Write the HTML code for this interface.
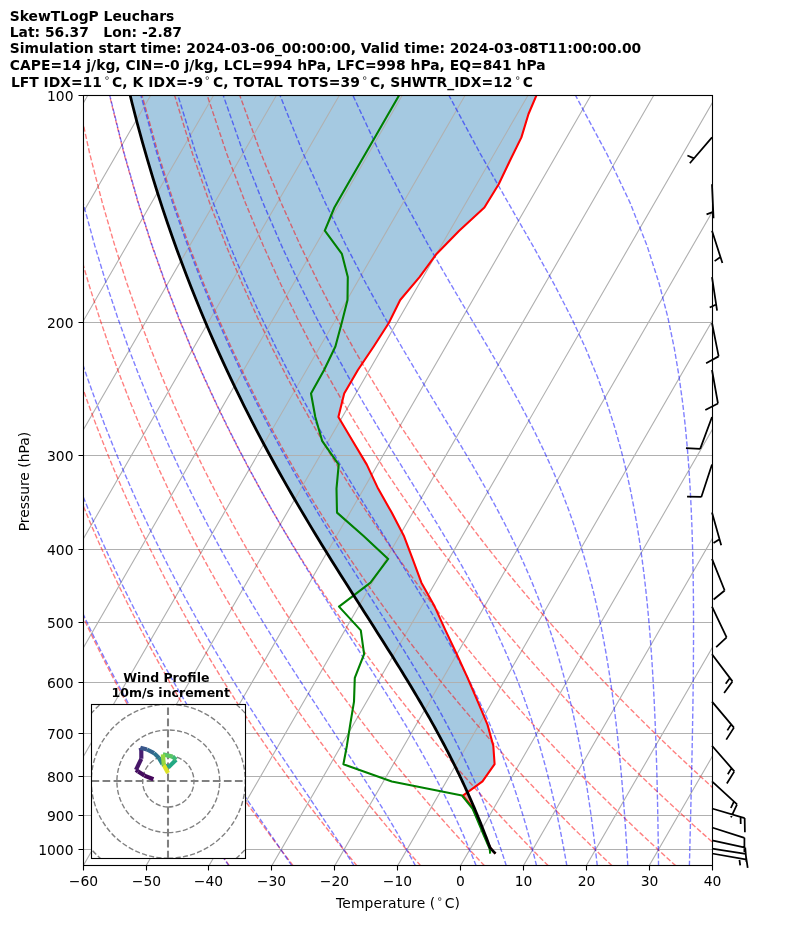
<!DOCTYPE html>
<html lang="en"><head><meta charset="utf-8"><title>SkewTLogP Leuchars</title>
<style>html,body{margin:0;padding:0;background:#fff}svg{display:block}</style></head>
<body>
<svg width="794" height="937" viewBox="0 0 794 937" font-family="'DejaVu Sans','Liberation Sans',sans-serif" font-size="13.89px" fill="#000">
<rect width="794" height="937" fill="#fff"/>
<defs><clipPath id="ax"><rect x="83.5" y="95.5" width="629" height="770"/></clipPath>
<clipPath id="hd"><rect x="91.5" y="704.5" width="154" height="154"/></clipPath></defs>
<g clip-path="url(#ax)">
<polygon points="466.27,793.16 482.5,781.4 494.6,764.2 493.3,745.7 487.5,724.6 477.8,701.6 467.6,677.9 456.8,654.2 445.5,630.4 434.7,606.6 421.4,582.7 412.6,558.9 403.8,535.7 391.7,512.6 378.1,488.6 366.8,464.6 352.5,440.8 338.4,417 344.2,393.5 357.9,370 373.7,346.5 388.8,323 400.2,300 419.5,277.1 436.5,253.9 459.2,230.7 484.4,207.5 498.7,184.3 509.9,160.8 521.4,137.4 528.5,114 538.3,91 127.04,82.41 132.23,103.73 137.4,123.76 142.55,142.63 147.66,160.47 152.72,177.39 157.74,193.48 162.72,208.82 167.65,223.47 172.52,237.49 177.35,250.94 182.13,263.85 186.85,276.28 191.53,288.25 196.15,299.8 200.73,310.95 205.25,321.74 209.73,332.19 214.17,342.31 218.55,352.13 222.89,361.66 227.18,370.92 231.43,379.93 235.64,388.69 239.8,397.23 243.92,405.55 248,413.67 252.04,421.59 256.04,429.32 260,436.87 263.91,444.26 267.79,451.48 271.63,458.54 275.44,465.46 279.2,472.23 282.93,478.86 286.62,485.37 290.27,491.74 293.89,498 297.47,504.14 301.01,510.16 304.52,516.08 307.99,521.89 311.42,527.6 314.82,533.21 318.18,538.73 321.51,544.15 324.8,549.49 328.05,554.74 331.27,559.91 334.45,565 337.59,570.01 340.7,574.95 343.77,579.81 346.8,584.6 349.8,589.32 352.76,593.98 355.69,598.57 358.58,603.09 361.43,607.56 364.24,611.96 367.02,616.31 369.76,620.6 372.46,624.83 375.12,629.01 377.75,633.14 380.34,637.21 382.9,641.24 385.41,645.21 387.89,649.14 390.34,653.02 392.75,656.86 395.12,660.65 397.45,664.4 399.75,668.11 402.02,671.77 404.24,675.4 406.44,678.98 408.59,682.53 410.72,686.04 412.81,689.51 414.86,692.94 416.88,696.34 418.87,699.7 420.83,703.03 422.75,706.33 424.64,709.59 426.5,712.82 428.32,716.02 430.12,719.19 431.89,722.33 433.62,725.44 435.33,728.52 437.01,731.57 438.65,734.59 440.27,737.59 441.87,740.55 443.43,743.49 444.97,746.41 446.48,749.3 447.97,752.16 449.43,755 450.86,757.82 452.27,760.61 453.66,763.37 455.02,766.12 456.36,768.84 457.68,771.54 458.97,774.21 460.25,776.87 461.5,779.5 462.73,782.11 463.94,784.71 465.13,787.28 466.3,789.83 467.45,792.36 467.81,793.16" fill="#1f77b4" fill-opacity="0.4"/>
<polygon points="466.27,793.16 462.9,795.6 473.3,808.5 477.5,818.5 481.3,827.6 484.5,835 487,840.8 489,845 491,848.5 490.13,847.9 489.35,845.76 488.55,843.62 487.74,841.45 486.92,839.27 486.08,837.08 485.24,834.87 484.37,832.65 483.5,830.41 482.61,828.16 481.71,825.89 480.8,823.61 479.87,821.31 478.92,818.99 477.96,816.66 476.98,814.31 475.99,811.94 474.98,809.56 473.96,807.15 472.92,804.73 471.86,802.3 470.78,799.84 469.69,797.37 468.58,794.87" fill="#d62728" fill-opacity="0.4"/>
<path d="M-419.93 865.85L24.67 95.77M-357.04 865.85L87.56 95.77M-294.16 865.85L150.44 95.77M-231.28 865.85L213.33 95.77M-168.39 865.85L276.21 95.77M-105.5 865.85L339.1 95.77M-42.62 865.85L401.98 95.77M20.27 865.85L464.87 95.77M83.15 865.85L527.75 95.77M146.03 865.85L590.64 95.77M208.92 865.85L653.52 95.77M271.81 865.85L716.41 95.77M334.69 865.85L779.29 95.77M397.58 865.85L842.18 95.77M460.46 865.85L905.06 95.77M523.35 865.85L967.95 95.77M586.23 865.85L1030.83 95.77M649.12 865.85L1093.72 95.77M712 865.85L1156.6 95.77M83.5 95.5H712.5M83.5 322.5H712.5M83.5 455.5H712.5M83.5 549.5H712.5M83.5 622.5H712.5M83.5 682.5H712.5M83.5 733.5H712.5M83.5 776.5H712.5M83.5 815.5H712.5M83.5 849.5H712.5" stroke="#b0b0b0" stroke-width="1.11" fill="none"/>
<path d="M229.5,865.85L225.13,859.75L220.72,853.53L216.27,847.19L211.77,840.72L207.23,834.13L202.65,827.4L198.03,820.52L193.35,813.5L188.64,806.33L183.87,799L179.05,791.49L174.18,783.82L169.26,775.96L164.28,767.9L159.25,759.64L154.16,751.17L149.02,742.47L143.81,733.54L138.54,724.35L133.21,714.9L127.81,705.17L122.34,695.14L116.8,684.8L111.2,674.11L105.51,663.07L99.75,651.64L93.91,639.8L87.99,627.51L81.99,614.75L75.9,601.46L69.72,587.62L63.45,573.16L57.08,558.04L50.62,542.18L44.06,525.52L37.41,507.96L30.65,489.41L23.79,469.74L16.84,448.82L9.79,426.47L2.65,402.48L-4.56,376.59L-11.84,348.48L-19.14,317.73L-26.44,283.79L-33.65,245.92L-40.67,203.09L-47.31,153.81L-53.24,95.77M293.27,865.85L288.56,859.75L283.8,853.53L279,847.19L274.16,840.72L269.26,834.13L264.32,827.4L259.32,820.52L254.28,813.5L249.18,806.33L244.02,799L238.81,791.49L233.54,783.82L228.22,775.96L222.83,767.9L217.38,759.64L211.86,751.17L206.28,742.47L200.63,733.54L194.9,724.35L189.11,714.9L183.24,705.17L177.29,695.14L171.26,684.8L165.14,674.11L158.94,663.07L152.65,651.64L146.27,639.8L139.79,627.51L133.21,614.75L126.53,601.46L119.74,587.62L112.84,573.16L105.83,558.04L98.7,542.18L91.45,525.52L84.07,507.96L76.57,489.41L68.93,469.74L61.16,448.82L53.25,426.47L45.22,402.48L37.05,376.59L28.77,348.48L20.39,317.73L11.94,283.79L3.48,245.92L-4.9,203.09L-13.05,153.81L-20.67,95.77M357.04,865.85L351.99,859.75L346.89,853.53L341.74,847.19L336.54,840.72L331.29,834.13L325.98,827.4L320.62,820.52L315.2,813.5L309.72,806.33L304.18,799L298.57,791.49L292.91,783.82L287.17,775.96L281.37,767.9L275.5,759.64L269.56,751.17L263.54,742.47L257.44,733.54L251.27,724.35L245.01,714.9L238.66,705.17L232.23,695.14L225.71,684.8L219.09,674.11L212.37,663.07L205.55,651.64L198.62,639.8L191.58,627.51L184.43,614.75L177.16,601.46L169.77,587.62L162.24,573.16L154.58,558.04L146.78,542.18L138.84,525.52L130.74,507.96L122.48,489.41L114.07,469.74L105.48,448.82L96.72,426.47L87.78,402.48L78.66,376.59L69.37,348.48L59.92,317.73L50.32,283.79L40.61,245.92L30.87,203.09L21.21,153.81L11.9,95.77M420.8,865.85L415.42,859.75L409.98,853.53L404.48,847.19L398.93,840.72L393.32,834.13L387.64,827.4L381.91,820.52L376.12,813.5L370.26,806.33L364.33,799L358.34,791.49L352.27,783.82L346.13,775.96L339.92,767.9L333.63,759.64L327.25,751.17L320.8,742.47L314.26,733.54L307.63,724.35L300.91,714.9L294.09,705.17L287.17,695.14L280.16,684.8L273.03,674.11L265.8,663.07L258.45,651.64L250.98,639.8L243.38,627.51L235.66,614.75L227.79,601.46L219.79,587.62L211.64,573.16L203.33,558.04L194.86,542.18L186.22,525.52L177.41,507.96L168.4,489.41L159.2,469.74L149.8,448.82L140.18,426.47L130.34,402.48L120.28,376.59L109.98,348.48L99.45,317.73L88.69,283.79L77.74,245.92L66.63,203.09L55.48,153.81L44.47,95.77M484.57,865.85L478.85,859.75L473.06,853.53L467.22,847.19L461.31,840.72L455.34,834.13L449.31,827.4L443.21,820.52L437.04,813.5L430.8,806.33L424.49,799L418.1,791.49L411.64,783.82L405.09,775.96L398.46,767.9L391.75,759.64L384.95,751.17L378.06,742.47L371.07,733.54L363.99,724.35L356.81,714.9L349.52,705.17L342.12,695.14L334.61,684.8L326.98,674.11L319.22,663.07L311.34,651.64L303.33,639.8L295.18,627.51L286.88,614.75L278.43,601.46L269.82,587.62L261.04,573.16L252.08,558.04L242.94,542.18L233.61,525.52L224.07,507.96L214.32,489.41L204.34,469.74L194.12,448.82L183.64,426.47L172.91,402.48L161.89,376.59L150.58,348.48L138.98,317.73L127.07,283.79L114.87,245.92L102.4,203.09L89.74,153.81L77.04,95.77M548.34,865.85L542.28,859.75L536.15,853.53L529.96,847.19L523.7,840.72L517.37,834.13L510.97,827.4L504.5,820.52L497.96,813.5L491.34,806.33L484.64,799L477.86,791.49L471,783.82L464.05,775.96L457.01,767.9L449.88,759.64L442.65,751.17L435.32,742.47L427.89,733.54L420.35,724.35L412.71,714.9L404.94,705.17L397.06,695.14L389.06,684.8L380.92,674.11L372.65,663.07L364.24,651.64L355.68,639.8L346.97,627.51L338.1,614.75L329.06,601.46L319.84,587.62L310.43,573.16L300.83,558.04L291.02,542.18L281,525.52L270.74,507.96L260.24,489.41L249.47,469.74L238.44,448.82L227.11,426.47L215.47,402.48L203.5,376.59L191.19,348.48L178.51,317.73L165.45,283.79L152,245.92L138.17,203.09L124,153.81L109.61,95.77M612.11,865.85L605.7,859.75L599.23,853.53L592.69,847.19L586.08,840.72L579.4,834.13L572.64,827.4L565.8,820.52L558.88,813.5L551.88,806.33L544.8,799L537.63,791.49L530.36,783.82L523.01,775.96L515.55,767.9L508,759.64L500.34,751.17L492.58,742.47L484.71,733.54L476.72,724.35L468.61,714.9L460.37,705.17L452.01,695.14L443.51,684.8L434.87,674.11L426.08,663.07L417.14,651.64L408.04,639.8L398.77,627.51L389.32,614.75L379.69,601.46L369.86,587.62L359.83,573.16L349.58,558.04L339.1,542.18L328.38,525.52L317.4,507.96L306.15,489.41L294.61,469.74L282.76,448.82L270.57,426.47L258.03,402.48L245.12,376.59L231.79,348.48L218.04,317.73L203.82,283.79L189.13,245.92L173.94,203.09L158.26,153.81L142.18,95.77M675.88,865.85L669.13,859.75L662.32,853.53L655.43,847.19L648.47,840.72L641.42,834.13L634.3,827.4L627.09,820.52L619.8,813.5L612.42,806.33L604.95,799L597.39,791.49L589.73,783.82L581.96,775.96L574.1,767.9L566.13,759.64L558.04,751.17L549.84,742.47L541.52,733.54L533.08,724.35L524.51,714.9L515.8,705.17L506.95,695.14L497.96,684.8L488.81,674.11L479.51,663.07L470.04,651.64L460.39,639.8L450.57,627.51L440.55,614.75L430.32,601.46L419.89,587.62L409.23,573.16L398.33,558.04L387.18,542.18L375.77,525.52L364.07,507.96L352.07,489.41L339.75,469.74L327.08,448.82L314.04,426.47L300.6,402.48L286.73,376.59L272.4,348.48L257.57,317.73L242.2,283.79L226.26,245.92L209.7,203.09L192.53,153.81L174.75,95.77M739.64,865.85L732.56,859.75L725.41,853.53L718.17,847.19L710.85,840.72L703.45,834.13L695.96,827.4L688.39,820.52L680.72,813.5L672.96,806.33L665.11,799L657.15,791.49L649.09,783.82L640.92,775.96L632.64,767.9L624.25,759.64L615.74,751.17L607.1,742.47L598.34,733.54L589.44,724.35L580.41,714.9L571.23,705.17L561.9,695.14L552.41,684.8L542.76,674.11L532.94,663.07L522.94,651.64L512.75,639.8L502.36,627.51L491.77,614.75L480.96,601.46L469.91,587.62L458.63,573.16L447.08,558.04L435.27,542.18L423.16,525.52L410.74,507.96L397.99,489.41L384.88,469.74L371.4,448.82L357.5,426.47L343.16,402.48L328.34,376.59L313,348.48L297.1,317.73L280.58,283.79L263.39,245.92L245.47,203.09L226.79,153.81L207.33,95.77M803.41,865.85L795.99,859.75L788.49,853.53L780.91,847.19L773.24,840.72L765.48,834.13L757.63,827.4L749.69,820.52L741.65,813.5L733.51,806.33L725.26,799L716.91,791.49L708.45,783.82L699.88,775.96L691.19,767.9L682.37,759.64L673.43,751.17L664.36,742.47L655.15,733.54L645.8,724.35L636.31,714.9L626.65,705.17L616.84,695.14L606.86,684.8L596.7,674.11L586.37,663.07L575.84,651.64L565.1,639.8L554.16,627.51L542.99,614.75L531.59,601.46L519.94,587.62L508.03,573.16L495.83,558.04L483.35,542.18L470.54,525.52L457.4,507.96L443.9,489.41L430.02,469.74L415.71,448.82L400.96,426.47L385.72,402.48L369.95,376.59L353.61,348.48L336.63,317.73L318.95,283.79L300.52,245.92L281.24,203.09L261.05,153.81L239.9,95.77" stroke="#f00" stroke-opacity="0.5" stroke-width="1.39" stroke-dasharray="5.14 2.22" fill="none"/>
<path d="M228.94,865.85L224.8,859.75L220.6,853.53L216.35,847.19L212.03,840.72L207.66,834.13L203.23,827.4L198.74,820.52L194.18,813.5L189.57,806.33L184.9,799L180.17,791.49L175.37,783.82L170.51,775.96L165.59,767.9L160.61,759.64L155.56,751.17L150.45,742.47L145.26,733.54L140.01,724.35L134.7,714.9L129.31,705.17L123.85,695.14L118.31,684.8L112.7,674.11L107.01,663.07L101.25,651.64L95.4,639.8L89.47,627.51L83.45,614.75L77.35,601.46L71.15,587.62L64.87,573.16L58.48,558.04L52.01,542.18L45.43,525.52L38.75,507.96L31.97,489.41L25.09,469.74L18.12,448.82L11.04,426.47L3.88,402.48L-3.36,376.59L-10.67,348.48L-18,317.73L-25.33,283.79L-32.58,245.92L-39.64,203.09L-46.32,153.81L-52.31,95.77M291.9,865.85L287.75,859.75L283.52,853.53L279.2,847.19L274.81,840.72L270.33,834.13L265.76,827.4L261.12,820.52L256.39,813.5L251.58,806.33L246.68,799L241.71,791.49L236.64,783.82L231.5,775.96L226.27,767.9L220.96,759.64L215.56,751.17L210.07,742.47L204.5,733.54L198.85,724.35L193.1,714.9L187.27,705.17L181.35,695.14L175.33,684.8L169.22,674.11L163.02,663.07L156.72,651.64L150.32,639.8L143.82,627.51L137.21,614.75L130.49,601.46L123.67,587.62L116.73,573.16L109.67,558.04L102.49,542.18L95.19,525.52L87.76,507.96L80.19,489.41L72.49,469.74L64.66,448.82L56.69,426.47L48.58,402.48L40.34,376.59L31.97,348.48L23.51,317.73L14.97,283.79L6.41,245.92L-2.08,203.09L-10.34,153.81L-18.1,95.77M354.15,865.85L350.27,859.75L346.28,853.53L342.18,847.19L337.96,840.72L333.64,834.13L329.2,827.4L324.65,820.52L319.99,813.5L315.2,806.33L310.3,799L305.28,791.49L300.14,783.82L294.88,775.96L289.51,767.9L284.01,759.64L278.4,751.17L272.66,742.47L266.81,733.54L260.84,724.35L254.74,714.9L248.53,705.17L242.2,695.14L235.74,684.8L229.17,674.11L222.47,663.07L215.64,651.64L208.69,639.8L201.61,627.51L194.4,614.75L187.06,601.46L179.58,587.62L171.96,573.16L164.19,558.04L156.27,542.18L148.2,525.52L139.97,507.96L131.57,489.41L123,469.74L114.25,448.82L105.32,426.47L96.21,402.48L86.91,376.59L77.42,348.48L67.75,317.73L57.92,283.79L47.96,245.92L37.95,203.09L28,153.81L18.35,95.77M415.51,865.85L412.23,859.75L408.83,853.53L405.3,847.19L401.65,840.72L397.86,834.13L393.94,827.4L389.87,820.52L385.66,813.5L381.3,806.33L376.78,799L372.1,791.49L367.27,783.82L362.26,775.96L357.09,767.9L351.75,759.64L346.24,751.17L340.56,742.47L334.7,733.54L328.66,724.35L322.45,714.9L316.06,705.17L309.5,695.14L302.75,684.8L295.84,674.11L288.74,663.07L281.48,651.64L274.03,639.8L266.41,627.51L258.61,614.75L250.63,601.46L242.48,587.62L234.13,573.16L225.61,558.04L216.89,542.18L207.97,525.52L198.86,507.96L189.53,489.41L179.98,469.74L170.21,448.82L160.21,426.47L149.96,402.48L139.46,376.59L128.7,348.48L117.67,317.73L106.39,283.79L94.86,245.92L83.12,203.09L71.27,153.81L59.49,95.77M476.15,865.85L473.73,859.75L471.2,853.53L468.56,847.19L465.81,840.72L462.93,834.13L459.93,827.4L456.78,820.52L453.49,813.5L450.05,806.33L446.44,799L442.67,791.49L438.71,783.82L434.57,775.96L430.22,767.9L425.67,759.64L420.9,751.17L415.91,742.47L410.67,733.54L405.2,724.35L399.47,714.9L393.49,705.17L387.24,695.14L380.72,684.8L373.93,674.11L366.86,663.07L359.52,651.64L351.89,639.8L343.99,627.51L335.8,614.75L327.34,601.46L318.61,587.62L309.6,573.16L300.31,558.04L290.75,542.18L280.92,525.52L270.8,507.96L260.4,489.41L249.71,469.74L238.73,448.82L227.43,426.47L215.8,402.48L203.84,376.59L191.53,348.48L178.84,317.73L165.77,283.79L152.31,245.92L138.47,203.09L124.29,153.81L109.89,95.77M506.35,865.85L504.39,859.75L502.35,853.53L500.22,847.19L497.98,840.72L495.64,834.13L493.19,827.4L490.62,820.52L487.92,813.5L485.08,806.33L482.1,799L478.96,791.49L475.65,783.82L472.17,775.96L468.49,767.9L464.62,759.64L460.52,751.17L456.2,742.47L451.64,733.54L446.82,724.35L441.73,714.9L436.35,705.17L430.67,695.14L424.68,684.8L418.37,674.11L411.71,663.07L404.72,651.64L397.37,639.8L389.65,627.51L381.58,614.75L373.14,601.46L364.33,587.62L355.16,573.16L345.62,558.04L335.73,542.18L325.48,525.52L314.87,507.96L303.91,489.41L292.58,469.74L280.89,448.82L268.83,426.47L256.39,402.48L243.55,376.59L230.28,348.48L216.58,317.73L202.41,283.79L187.76,245.92L172.62,203.09L157.01,153.81L140.99,95.77M536.57,865.85L535.07,859.75L533.51,853.53L531.87,847.19L530.16,840.72L528.36,834.13L526.47,827.4L524.49,820.52L522.4,813.5L520.21,806.33L517.89,799L515.44,791.49L512.86,783.82L510.13,775.96L507.23,767.9L504.16,759.64L500.9,751.17L497.43,742.47L493.74,733.54L489.82,724.35L485.63,714.9L481.17,705.17L476.41,695.14L471.32,684.8L465.89,674.11L460.09,663.07L453.89,651.64L447.29,639.8L440.24,627.51L432.75,614.75L424.78,601.46L416.32,587.62L407.38,573.16L397.93,558.04L387.99,542.18L377.54,525.52L366.61,507.96L355.18,489.41L343.27,469.74L330.88,448.82L318.01,426.47L304.65,402.48L290.8,376.59L276.44,348.48L261.54,317.73L246.07,283.79L230.01,245.92L213.33,203.09L196,153.81L178.05,95.77M566.86,865.85L565.8,859.75L564.68,853.53L563.51,847.19L562.29,840.72L561.01,834.13L559.66,827.4L558.24,820.52L556.75,813.5L555.17,806.33L553.51,799L551.75,791.49L549.89,783.82L547.91,775.96L545.81,767.9L543.58,759.64L541.2,751.17L538.66,742.47L535.95,733.54L533.04,724.35L529.92,714.9L526.57,705.17L522.97,695.14L519.08,684.8L514.89,674.11L510.36,663.07L505.45,651.64L500.13,639.8L494.37,627.51L488.11,614.75L481.33,601.46L473.98,587.62L466.01,573.16L457.4,558.04L448.12,542.18L438.13,525.52L427.43,507.96L416.01,489.41L403.87,469.74L391.02,448.82L377.47,426.47L363.23,402.48L348.32,376.59L332.72,348.48L316.42,317.73L299.41,283.79L281.65,245.92L263.08,203.09L243.66,153.81L223.36,95.77M597.28,865.85L596.6,859.75L595.88,853.53L595.14,847.19L594.35,840.72L593.53,834.13L592.67,827.4L591.76,820.52L590.8,813.5L589.78,806.33L588.71,799L587.58,791.49L586.38,783.82L585.1,775.96L583.74,767.9L582.29,759.64L580.74,751.17L579.08,742.47L577.3,733.54L575.39,724.35L573.33,714.9L571.11,705.17L568.71,695.14L566.11,684.8L563.27,674.11L560.18,663.07L556.81,651.64L553.11,639.8L549.05,627.51L544.58,614.75L539.64,601.46L534.18,587.62L528.13,573.16L521.41,558.04L513.95,542.18L505.67,525.52L496.48,507.96L486.31,489.41L475.1,469.74L462.8,448.82L449.39,426.47L434.87,402.48L419.25,376.59L402.56,348.48L384.83,317.73L366.07,283.79L346.27,245.92L325.4,203.09L303.38,153.81L280.15,95.77M627.83,865.85L627.48,859.75L627.12,853.53L626.73,847.19L626.33,840.72L625.9,834.13L625.45,827.4L624.98,820.52L624.48,813.5L623.94,806.33L623.38,799L622.78,791.49L622.14,783.82L621.46,775.96L620.73,767.9L619.95,759.64L619.11,751.17L618.21,742.47L617.24,733.54L616.19,724.35L615.06,714.9L613.83,705.17L612.49,695.14L611.03,684.8L609.43,674.11L607.67,663.07L605.74,651.64L603.61,639.8L601.24,627.51L598.61,614.75L595.67,601.46L592.37,587.62L588.65,573.16L584.45,558.04L579.67,542.18L574.22,525.52L567.97,507.96L560.8,489.41L552.53,469.74L542.98,448.82L531.99,426.47L519.36,402.48L504.96,376.59L488.69,348.48L470.54,317.73L450.53,283.79L428.75,245.92L405.25,203.09L380.06,153.81L353.11,95.77M658.54,865.85L658.47,859.75L658.39,853.53L658.3,847.19L658.21,840.72L658.11,834.13L658.01,827.4L657.89,820.52L657.76,813.5L657.63,806.33L657.47,799L657.31,791.49L657.13,783.82L656.93,775.96L656.71,767.9L656.47,759.64L656.2,751.17L655.91,742.47L655.59,733.54L655.23,724.35L654.83,714.9L654.39,705.17L653.9,695.14L653.35,684.8L652.73,674.11L652.05,663.07L651.27,651.64L650.4,639.8L649.41,627.51L648.29,614.75L647.01,601.46L645.55,587.62L643.88,573.16L641.94,558.04L639.69,542.18L637.06,525.52L633.98,507.96L630.33,489.41L625.99,469.74L620.77,448.82L614.46,426.47L606.76,402.48L597.32,376.59L585.69,348.48L571.39,317.73L553.93,283.79L532.96,245.92L508.39,203.09L480.36,153.81L449.11,95.77M689.38,865.85L689.54,859.75L689.69,853.53L689.85,847.19L690.01,840.72L690.17,834.13L690.34,827.4L690.51,820.52L690.68,813.5L690.85,806.33L691.03,799L691.2,791.49L691.38,783.82L691.56,775.96L691.73,767.9L691.91,759.64L692.08,751.17L692.26,742.47L692.43,733.54L692.59,724.35L692.75,714.9L692.91,705.17L693.05,695.14L693.18,684.8L693.3,674.11L693.4,663.07L693.47,651.64L693.53,639.8L693.54,627.51L693.52,614.75L693.45,601.46L693.32,587.62L693.12,573.16L692.82,558.04L692.42,542.18L691.87,525.52L691.15,507.96L690.21,489.41L688.98,469.74L687.39,448.82L685.33,426.47L682.62,402.48L679.06,376.59L674.33,348.48L667.94,317.73L659.21,283.79L647.11,245.92L630.21,203.09L606.83,153.81L575.68,95.77M720.36,865.85L720.69,859.75L721.03,853.53L721.37,847.19L721.73,840.72L722.1,834.13L722.48,827.4L722.86,820.52L723.26,813.5L723.67,806.33L724.1,799L724.53,791.49L724.98,783.82L725.44,775.96L725.92,767.9L726.41,759.64L726.91,751.17L727.43,742.47L727.97,733.54L728.52,724.35L729.08,714.9L729.67,705.17L730.27,695.14L730.89,684.8L731.53,674.11L732.19,663.07L732.87,651.64L733.56,639.8L734.28,627.51L735.01,614.75L735.76,601.46L736.54,587.62L737.32,573.16L738.12,558.04L738.92,542.18L739.73,525.52L740.54,507.96L741.33,489.41L742.09,469.74L742.8,448.82L743.43,426.47L743.92,402.48L744.23,376.59L744.23,348.48L743.78,317.73L742.61,283.79L740.29,245.92L736.05,203.09L728.45,153.81L714.72,95.77M751.45,865.85L751.91,859.75L752.39,853.53L752.88,847.19L753.38,840.72L753.9,834.13L754.44,827.4L754.99,820.52L755.56,813.5L756.15,806.33L756.76,799L757.39,791.49L758.04,783.82L758.71,775.96L759.4,767.9L760.12,759.64L760.86,751.17L761.63,742.47L762.43,733.54L763.25,724.35L764.11,714.9L765,705.17L765.93,695.14L766.89,684.8L767.89,674.11L768.94,663.07L770.03,651.64L771.17,639.8L772.35,627.51L773.6,614.75L774.9,601.46L776.26,587.62L777.69,573.16L779.19,558.04L780.77,542.18L782.44,525.52L784.19,507.96L786.05,489.41L788.01,469.74L790.08,448.82L792.28,426.47L794.6,402.48L797.06,376.59L799.67,348.48L802.4,317.73L805.25,283.79L808.17,245.92L811.02,203.09L813.55,153.81L815.12,95.77M782.63,865.85L783.19,859.75L783.77,853.53L784.36,847.19L784.98,840.72L785.61,834.13L786.26,827.4L786.93,820.52L787.63,813.5L788.34,806.33L789.08,799L789.85,791.49L790.64,783.82L791.46,775.96L792.3,767.9L793.18,759.64L794.09,751.17L795.04,742.47L796.02,733.54L797.04,724.35L798.1,714.9L799.2,705.17L800.35,695.14L801.55,684.8L802.8,674.11L804.1,663.07L805.47,651.64L806.9,639.8L808.4,627.51L809.98,614.75L811.64,601.46L813.39,587.62L815.24,573.16L817.19,558.04L819.26,542.18L821.46,525.52L823.8,507.96L826.31,489.41L828.99,469.74L831.87,448.82L834.98,426.47L838.35,402.48L842.01,376.59L846.03,348.48L850.45,317.73L855.35,283.79L860.83,245.92L867,203.09L874.04,153.81L882.12,95.77" stroke="#00f" stroke-opacity="0.5" stroke-width="1.39" stroke-dasharray="5.14 2.22" fill="none"/>
<polyline points="495.5,853.6 493,851.2 491,848.5 489,845 487,840.8 484.5,835 481.3,827.6 477.5,818.5 473.3,808.5 462.9,795.6 482.5,781.4 494.6,764.2 493.3,745.7 487.5,724.6 477.8,701.6 467.6,677.9 456.8,654.2 445.5,630.4 434.7,606.6 421.4,582.7 412.6,558.9 403.8,535.7 391.7,512.6 378.1,488.6 366.8,464.6 352.5,440.8 338.4,417 344.2,393.5 357.9,370 373.7,346.5 388.8,323 400.2,300 419.5,277.1 436.5,253.9 459.2,230.7 484.4,207.5 498.7,184.3 509.9,160.8 521.4,137.4 528.5,114 538.3,91" fill="none" stroke="#f00" stroke-width="2.08" stroke-linejoin="round"/>
<polyline points="490.1,853.6 490,851.2 489.6,848.5 488,845 486.2,840.8 483.7,835 480.6,827.6 476.8,818.5 472.5,808.5 462,795.6 391.8,781.4 343.4,764.2 346.9,745.7 350.2,724.6 354,701.6 354.8,677.9 364.1,654.2 360.8,630.4 339,606.6 370.5,582.7 388.2,558.9 363.3,535.7 337,512.6 336.5,488.6 338.7,464.6 322.1,440.8 315.3,417 311,393.5 324.1,370 335.4,346.5 341.7,323 347.5,300 347.8,277.1 341.9,253.9 324.8,230.7 334.4,207.5 347.7,184.3 361.3,160.8 374.8,137.4 388.3,114 401.6,91" fill="none" stroke="#008000" stroke-width="2.08" stroke-linejoin="round"/>
<polyline points="495.5,853.6 490.13,847.9 489.35,845.76 488.55,843.62 487.74,841.45 486.92,839.27 486.08,837.08 485.24,834.87 484.37,832.65 483.5,830.41 482.61,828.16 481.71,825.89 480.8,823.61 479.87,821.31 478.92,818.99 477.96,816.66 476.98,814.31 475.99,811.94 474.98,809.56 473.96,807.15 472.92,804.73 471.86,802.3 470.78,799.84 469.69,797.37 468.58,794.87 467.45,792.36 466.3,789.83 465.13,787.28 463.94,784.71 462.73,782.11 461.5,779.5 460.25,776.87 458.97,774.21 457.68,771.54 456.36,768.84 455.02,766.12 453.66,763.37 452.27,760.61 450.86,757.82 449.43,755 447.97,752.16 446.48,749.3 444.97,746.41 443.43,743.49 441.87,740.55 440.27,737.59 438.65,734.59 437.01,731.57 435.33,728.52 433.62,725.44 431.89,722.33 430.12,719.19 428.32,716.02 426.5,712.82 424.64,709.59 422.75,706.33 420.83,703.03 418.87,699.7 416.88,696.34 414.86,692.94 412.81,689.51 410.72,686.04 408.59,682.53 406.44,678.98 404.24,675.4 402.02,671.77 399.75,668.11 397.45,664.4 395.12,660.65 392.75,656.86 390.34,653.02 387.89,649.14 385.41,645.21 382.9,641.24 380.34,637.21 377.75,633.14 375.12,629.01 372.46,624.83 369.76,620.6 367.02,616.31 364.24,611.96 361.43,607.56 358.58,603.09 355.69,598.57 352.76,593.98 349.8,589.32 346.8,584.6 343.77,579.81 340.7,574.95 337.59,570.01 334.45,565 331.27,559.91 328.05,554.74 324.8,549.49 321.51,544.15 318.18,538.73 314.82,533.21 311.42,527.6 307.99,521.89 304.52,516.08 301.01,510.16 297.47,504.14 293.89,498 290.27,491.74 286.62,485.37 282.93,478.86 279.2,472.23 275.44,465.46 271.63,458.54 267.79,451.48 263.91,444.26 260,436.87 256.04,429.32 252.04,421.59 248,413.67 243.92,405.55 239.8,397.23 235.64,388.69 231.43,379.93 227.18,370.92 222.89,361.66 218.55,352.13 214.17,342.31 209.73,332.19 205.25,321.74 200.73,310.95 196.15,299.8 191.53,288.25 186.85,276.28 182.13,263.85 177.35,250.94 172.52,237.49 167.65,223.47 162.72,208.82 157.74,193.48 152.72,177.39 147.66,160.47 142.55,142.63 137.4,123.76 132.23,103.73 127.04,82.41" fill="none" stroke="#000" stroke-width="2.78" stroke-linejoin="round"/>
</g>
<rect x="83.5" y="95.5" width="629" height="770" fill="none" stroke="#000" stroke-width="1.11"/>
<path d="M83.5 865.5v5M146.5 865.5v5M208.5 865.5v5M271.5 865.5v5M334.5 865.5v5M397.5 865.5v5M460.5 865.5v5M523.5 865.5v5M586.5 865.5v5M649.5 865.5v5M712.5 865.5v5M83.5 95.5h-5M83.5 322.5h-5M83.5 455.5h-5M83.5 549.5h-5M83.5 622.5h-5M83.5 682.5h-5M83.5 733.5h-5M83.5 776.5h-5M83.5 815.5h-5M83.5 849.5h-5" stroke="#000" stroke-width="1.11" fill="none"/>
<g text-anchor="middle">
<text x="83.5" y="886.4">−60</text>
<text x="146.5" y="886.4">−50</text>
<text x="208.5" y="886.4">−40</text>
<text x="271.5" y="886.4">−30</text>
<text x="334.5" y="886.4">−20</text>
<text x="397.5" y="886.4">−10</text>
<text x="460.5" y="886.4">0</text>
<text x="523.5" y="886.4">10</text>
<text x="586.5" y="886.4">20</text>
<text x="649.5" y="886.4">30</text>
<text x="712.5" y="886.4">40</text>
</g>
<g text-anchor="end">
<text x="73.5" y="100.8">100</text>
<text x="73.5" y="327.8">200</text>
<text x="73.5" y="460.8">300</text>
<text x="73.5" y="554.8">400</text>
<text x="73.5" y="627.8">500</text>
<text x="73.5" y="687.8">600</text>
<text x="73.5" y="738.8">700</text>
<text x="73.5" y="781.8">800</text>
<text x="73.5" y="820.8">900</text>
<text x="73.5" y="854.8">1000</text>
</g>
<text y="907.6"><tspan x="336" y="907.6" letter-spacing="0.13">Temperature</tspan><tspan x="429.7" y="907.6">(</tspan><tspan x="436.8" y="902.2" font-size="9.72px">∘</tspan><tspan x="444.7" y="907.6">C)</tspan></text>
<text transform="translate(29.2 481.6) rotate(-90)" text-anchor="middle">Pressure (hPa)</text>
<g font-weight="bold">
<text x="9.75" y="20.5">SkewTLogP Leuchars</text>
<text x="9.75" y="36.7">Lat: 56.37   Lon: -2.87</text>
<text x="9.75" y="52.75" letter-spacing="-0.018">Simulation start time: 2024-03-06_00:00:00, Valid time: 2024-03-08T11:00:00.00</text>
<text x="9.75" y="69.65" letter-spacing="0.022">CAPE=14 j/kg, CIN=-0 j/kg, LCL=994 hPa, LFC=998 hPa, EQ=841 hPa</text>
<text y="86.55"><tspan x="10.9" y="86.55" letter-spacing="0">LFT IDX=11</tspan><tspan x="103.96" y="81.15" font-size="9.72px" font-weight="normal">∘</tspan><tspan x="112.1" y="86.55" letter-spacing="0.08">C, K IDX=-9</tspan><tspan x="204.36" y="81.15" font-size="9.72px" font-weight="normal">∘</tspan><tspan x="213.1" y="86.55" letter-spacing="0.05">C, TOTAL TOTS=39</tspan><tspan x="361.76" y="81.15" font-size="9.72px" font-weight="normal">∘</tspan><tspan x="369.9" y="86.55" letter-spacing="0">C, SHWTR_IDX=12</tspan><tspan x="514.76" y="81.15" font-size="9.72px" font-weight="normal">∘</tspan><tspan x="522.8" y="86.55" letter-spacing="0">C</tspan></text>
</g>
<path d="M712 137.4L689.82 163.21M693.98 158.37L687.43 155.55M712 184.3L713.54 218.29M713.25 211.92L706.55 214.35M712 230.7L722.4 263.1M720.45 257.02L714.62 261.13M712 277.1L717.09 310.74M716.14 304.44L709.73 307.56M712 323L718.64 356.37M718.64 356.37L706.12 363.2M712 370L717.97 403.5M717.97 403.5L705.31 410.08M712 417L700.18 448.91M700.18 448.91L685.94 448.17M712 464.6L701.33 496.91M701.33 496.91L687.07 496.68M712 512.6L721.21 545.36M719.49 539.21L713.51 543.1M712 558.9L724.67 590.48M724.67 590.48L713.62 599.5M712 606.6L726.62 637.33M726.62 637.33L716.15 647.02M712 654.2L732.45 681.4M732.45 681.4L724.13 692.98M729.89 678L725.73 683.79M712 701.6L733.93 727.61M733.93 727.61L726.27 739.64M731.19 724.36L727.36 730.38M712 745.7L734.34 771.37M734.34 771.37L726.86 783.51M731.54 768.16L727.81 774.23M712 781.4L737.05 804.43M737.05 804.43L730.96 817.33M733.92 801.56L730.87 808M712 808.5L744.65 818.08M744.65 818.08L744.9 832.34M740.57 816.88L740.7 824.01M712 827.5L744.43 837.8M744.43 837.8L744.37 852.06M712 840.3L745.22 847.67M745.22 847.67L746.43 861.88M712 848.6L745.62 853.87M745.62 853.87L747.71 867.97M712 853.5L745.53 859.31M739.24 858.22L740.18 865.29" stroke="#000" stroke-width="1.75" fill="none" stroke-linejoin="miter" stroke-linecap="butt"/>
<rect x="91.5" y="704.5" width="154" height="154" fill="#fff"/>
<g clip-path="url(#hd)" fill="none" stroke="#808080">
<path d="M168.3 806.97A25.67 25.67 0 1 0 168.3 755.63A25.67 25.67 0 1 0 168.3 806.97" stroke-width="1.39" stroke-dasharray="5.14 2.22"/>
<path d="M168.3 832.64A51.34 51.34 0 1 0 168.3 729.96A51.34 51.34 0 1 0 168.3 832.64" stroke-width="1.39" stroke-dasharray="5.14 2.22"/>
<path d="M168.3 858.31A77.01 77.01 0 1 0 168.3 704.29A77.01 77.01 0 1 0 168.3 858.31" stroke-width="1.39" stroke-dasharray="5.14 2.22"/>
<path d="M168.3 883.98A102.68 102.68 0 1 0 168.3 678.62A102.68 102.68 0 1 0 168.3 883.98" stroke-width="1.39" stroke-dasharray="5.14 2.22"/>
<path d="M91.5 781H245.5" stroke-width="2.08" stroke-dasharray="7.7 3.33"/>
<path d="M168 858.5V704.5" stroke-width="2.08" stroke-dasharray="7.7 3.33"/>
<path d="M153.4 779.3L144.4 775.6" stroke="#45085b" stroke-width="4.17" stroke-linecap="butt"/>
<path d="M144.4 775.6L138.2 771.6" stroke="#450c5e" stroke-width="4.17" stroke-linecap="butt"/>
<path d="M138.2 771.6L136 769.8" stroke="#460f61" stroke-width="4.17" stroke-linecap="butt"/>
<path d="M136 769.8L141.3 758.8" stroke="#461668" stroke-width="4.17" stroke-linecap="butt"/>
<path d="M141.3 758.8L141.3 750" stroke="#482072" stroke-width="4.17" stroke-linecap="butt"/>
<path d="M141.3 750L140.4 747.8" stroke="#443780" stroke-width="4.17" stroke-linecap="butt"/>
<path d="M140.4 747.8L147 749.5" stroke="#39578b" stroke-width="4.17" stroke-linecap="butt"/>
<path d="M147 749.5L154.1 753.1" stroke="#32668d" stroke-width="4.17" stroke-linecap="butt"/>
<path d="M154.1 753.1L158.9 757.9" stroke="#2c738e" stroke-width="4.17" stroke-linecap="butt"/>
<path d="M158.9 757.9L162.5 764.1" stroke="#26828d" stroke-width="4.17" stroke-linecap="butt"/>
<path d="M162.5 764.1L168.2 767.6" stroke="#21968a" stroke-width="4.17" stroke-linecap="butt"/>
<path d="M168.2 767.6L176.1 759.7" stroke="#22a884" stroke-width="4.17" stroke-linecap="butt"/>
<path d="M176.1 759.7L172.6 756.6" stroke="#3dba74" stroke-width="4.17" stroke-linecap="butt"/>
<path d="M172.6 756.6L162.9 754.4" stroke="#5ac664" stroke-width="4.17" stroke-linecap="butt"/>
<path d="M162.9 754.4L163.8 765" stroke="#95d740" stroke-width="4.17" stroke-linecap="butt"/>
<path d="M163.8 765L168 773" stroke="#dde326" stroke-width="4.17" stroke-linecap="butt"/>
</g>
<rect x="91.5" y="704.5" width="154" height="154" fill="none" stroke="#000" stroke-width="1.11"/>
<g font-weight="bold" font-size="12.5px" text-anchor="middle"><text x="166.3" y="681.7">Wind Profile</text><text x="170.8" y="697">10m/s increment</text></g>
</svg>
</body></html>
